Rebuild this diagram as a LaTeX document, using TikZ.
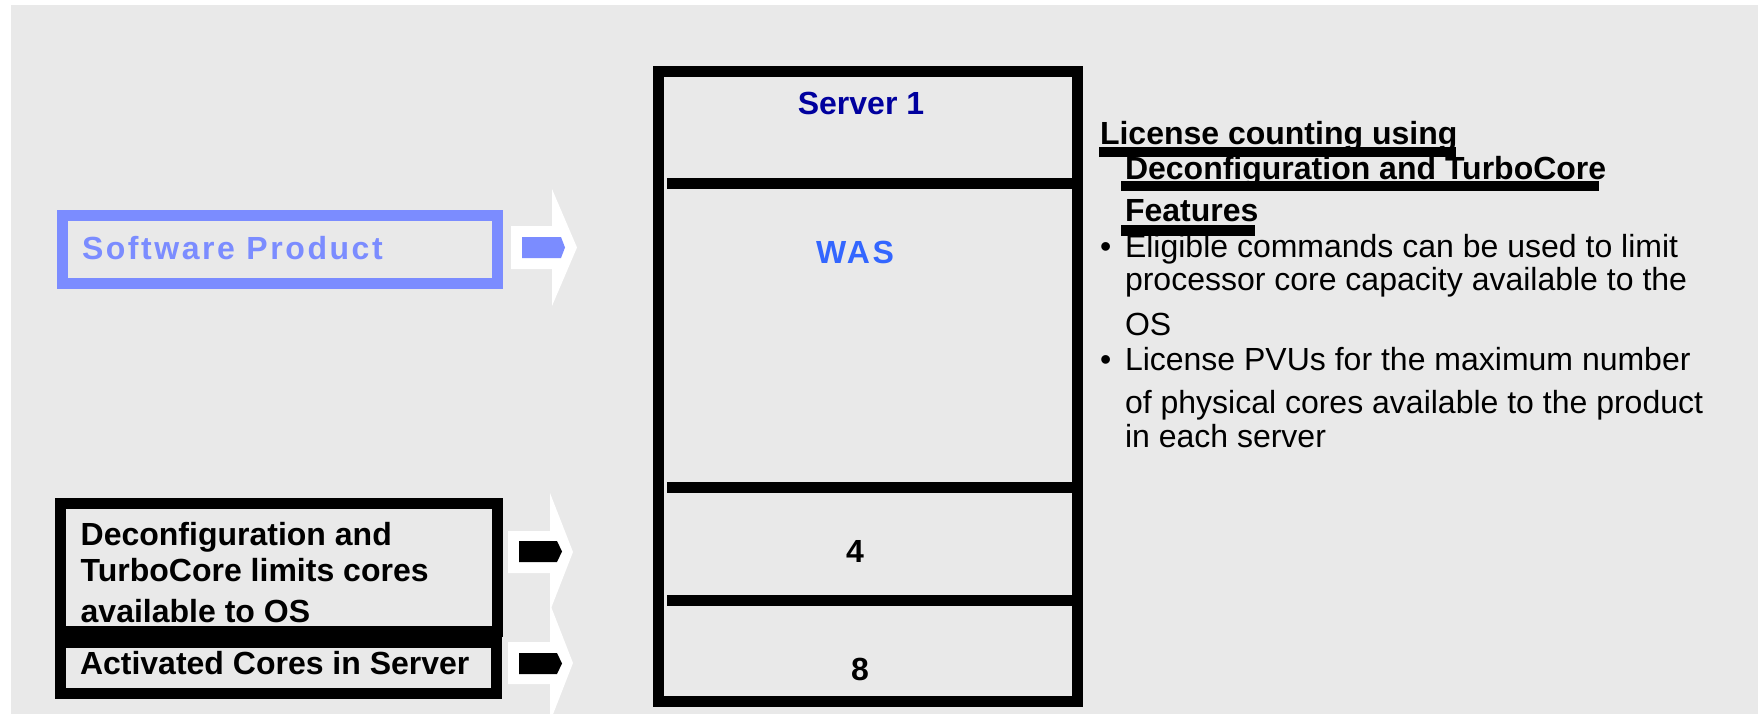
\documentclass[tikz,border=0pt]{standalone}
\usepackage{fontspec}
\setmainfont{Liberation Sans}
\newfontfamily\spacedfont[LetterSpace=8]{Liberation Sans}
\definecolor{bg}{HTML}{E9E9E9}
\definecolor{swblue}{HTML}{7B8CFF}
\definecolor{srvblue}{HTML}{00009E}
\definecolor{wasblue}{HTML}{3366FF}
\tikzset{
  txt/.style={inner sep=0pt, outer sep=0pt, anchor=base west, font=\fontsize{32}{38}\selectfont},
  btxt/.style={inner sep=0pt, outer sep=0pt, anchor=base west, font=\fontsize{32}{38}\selectfont\bfseries},
  ctxt/.style={inner sep=0pt, outer sep=0pt, anchor=base, font=\fontsize{32}{38}\selectfont\bfseries},
  sptxt/.style={inner sep=0pt, outer sep=0pt, font=\fontsize{32}{38}\selectfont\spacedfont\bfseries},
  frame/.style={line width=11pt, draw=black},
  swframe/.style={line width=11pt, draw=swblue},
  bigarrow/.style={fill=white},
  smallarrow/.style={fill=black},
  uline/.style={fill=black},
}
\begin{document}
\begin{tikzpicture}[x=1pt,y=-1pt]
\useasboundingbox (0,0) rectangle (1758,714);
\fill[white] (0,0) rectangle (1758,714);
\fill[bg] (11,5) rectangle (1758,714);

% Software Product box
\draw[swframe] (62.2,215.5) rectangle (497.5,283.5);
\node[sptxt, anchor=base west, text=swblue] (sw) at (82,259.3) {Software Product};
\fill[bigarrow] (511,226) -- (552,226) -- (552,189) -- (577,247.5) -- (552,306) -- (552,269) -- (511,269) -- cycle;
\fill[swblue] (522,237) -- (561,237) -- (565,247.5) -- (561,258) -- (522,258) -- cycle;

% Deconfiguration box
\draw[frame] (60.5,503.5) rectangle (497.5,631.5);
\node[btxt] (dc1) at (80.7,545.7) {Deconfiguration and};
\node[btxt] (dc2) at (80.7,581) {TurboCore limits cores};
\node[btxt] (dc3) at (80.7,622) {available to OS};
% Activated box
\draw[frame] (60.5,642.5) rectangle (496.5,693.5);
\node[btxt] (act) at (80,674) {Activated Cores in Server};

% arrows
\fill[bigarrow] (508,531) -- (550,531) -- (550,493) -- (573,552) -- (550,611) -- (550,573) -- (508,573) -- cycle;
\fill[bigarrow] (508,642) -- (550,642) -- (550,604) -- (573,663) -- (550,722) -- (550,684) -- (508,684) -- cycle;
\fill[smallarrow] (519,541) -- (557,541) -- (562,551.5) -- (557,562) -- (519,562) -- cycle;
\fill[smallarrow] (519,653) -- (557,653) -- (562,663.5) -- (557,674) -- (519,674) -- cycle;

% Server
\draw[frame] (658.5,71.5) rectangle (1077.5,701.5);
\draw[line width=11pt] (667,183.5) -- (1073,183.5);
\draw[line width=11pt] (667,487.5) -- (1073,487.5);
\draw[line width=11pt] (667,600) -- (1073,600);
\node[ctxt, text=srvblue] (srv) at (861,115) {Server 1};
\node[sptxt, anchor=base, text=wasblue] (was) at (855,263.3) {WAS};
\node[ctxt] (four) at (855,562.7) {4};
\node[ctxt] (eight) at (860,680) {8};

% Right text
\fill[uline] (1099,147) rectangle (1456,157);
\fill[uline] (1121,181) rectangle (1599,191);
\fill[uline] (1121,224.5) rectangle (1255,235.5);
\node[btxt] (t1) at (1100,145) {License counting using};
\node[btxt] (t2) at (1125,180) {Deconfiguration and TurboCore};
\node[btxt] (t3) at (1125,222) {Features};
\node[txt] (b1) at (1100,257) {•};
\node[txt] (l1) at (1125,257) {Eligible commands can be used to limit};
\node[txt] (l2) at (1125,290) {processor core capacity available to the};
\node[txt] (l3) at (1125,335) {OS};
\node[txt] (b2) at (1100,370) {•};
\node[txt] (l4) at (1125,370) {License PVUs for the maximum number};
\node[txt] (l5) at (1125,413) {of physical cores available to the product};
\node[txt] (l6) at (1125,447) {in each server};
\end{tikzpicture}
\end{document}
